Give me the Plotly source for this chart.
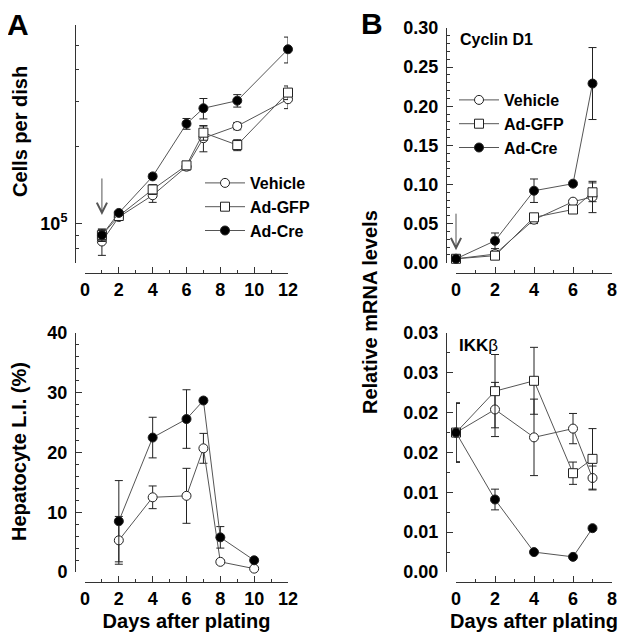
import numpy as np
import plotly.graph_objects as go

# --- DATA ---
growth_days = [1, 2, 4, 6, 7, 9, 12]
growth_vehicle = [0.85e5, 1.06e5, 1.29e5, 1.67e5, 2.16e5, 2.41e5, 3.07e5]
growth_vehicle_err = [0.10e5, 0.03e5, 0.08e5, 0.05e5, 0.25e5, 0.08e5, 0.25e5]
growth_gfp = [0.90e5, 1.07e5, 1.36e5, 1.69e5, 2.27e5, 2.03e5, 3.26e5]
growth_gfp_err = [0.05e5, 0.03e5, 0.06e5, 0.06e5, 0.15e5, 0.10e5, 0.20e5]
growth_cre = [0.90e5, 1.10e5, 1.53e5, 2.46e5, 2.83e5, 3.03e5, 4.82e5]
growth_cre_err = [0.04e5, 0.02e5, 0.03e5, 0.12e5, 0.26e5, 0.17e5, 0.56e5]

li_days = [2, 4, 6, 7, 8, 10]
li_vehicle = [5.3, 12.5, 12.75, 20.7, 1.7, 0.56]
li_vehicle_err = [4.0, 1.9, 4.6, 2.5, 0.3, 0.0]
li_cre = [8.5, 22.5, 25.6, 28.7, 5.8, 1.96]
li_cre_err = [6.8, 3.4, 4.9, 0.0, 1.8, 0.0]

mrna_days = [0, 2, 4, 6, 7]
cyclin_vehicle = [0.005, 0.011, 0.055, 0.078, 0.084]
cyclin_vehicle_err = [0.001, 0.004, 0.005, 0.003, 0.020]
cyclin_gfp = [0.005, 0.009, 0.058, 0.068, 0.090]
cyclin_gfp_err = [0.001, 0.003, 0.004, 0.003, 0.012]
cyclin_cre = [0.005, 0.028, 0.092, 0.101, 0.229]
cyclin_cre_err = [0.001, 0.010, 0.015, 0.002, 0.046]

ikk_vehicle = [0.0175, 0.0204, 0.0169, 0.0180, 0.0118]
ikk_vehicle_err = [0.0037, 0.0034, 0.0048, 0.0019, 0.0015]
ikk_gfp = [0.0175, 0.0227, 0.0240, 0.0124, 0.0142]
ikk_gfp_err = [0.0037, 0.0046, 0.0042, 0.0014, 0.0038]
ikk_cre = [0.0175, 0.0091, 0.0025, 0.0019, 0.0055]
ikk_cre_err = [0.0037, 0.0013, 0.0, 0.0, 0.0]

ikk_ticks = [0.0, 0.005, 0.010, 0.015, 0.020, 0.025, 0.030]
ikk_ticktext = ["0.00", "0.01", "0.01", "0.02", "0.02", "0.03", "0.03"]

# page has an 8px body margin, so the figure is drawn inside it
OFF = 8
W, H = 629 - 2 * OFF, 642 - 2 * OFF
FONT = "Arial, Liberation Sans, sans-serif"
LINE = "#555555"
EDGE = "#222222"

def px(x):
    return (x - OFF) / W

def py(y):
    return 1 - (y - OFF) / H

styles = {
    "Vehicle": dict(symbol="circle", color="white"),
    "Ad-GFP": dict(symbol="square", color="white"),
    "Ad-Cre": dict(symbol="circle", color="black"),
}

fig = go.Figure()

def add_series(name, x, y, err, xa, ya, legend=None):
    st = styles[name]
    fig.add_trace(go.Scatter(
        x=x, y=y, name=name, mode="lines+markers",
        xaxis=xa, yaxis=ya,
        line=dict(color=LINE, width=1),
        marker=dict(symbol=st["symbol"], size=9, color=st["color"],
                    line=dict(color=EDGE, width=1)),
        error_y=dict(type="data", array=err, visible=True, color=EDGE,
                     thickness=1, width=4),
        cliponaxis=False,
        showlegend=legend is not None,
        legend=legend if legend else "legend",
    ))

add_series("Vehicle", growth_days, growth_vehicle, growth_vehicle_err, "x", "y", "legend")
add_series("Ad-GFP", growth_days, growth_gfp, growth_gfp_err, "x", "y", "legend")
add_series("Ad-Cre", growth_days, growth_cre, growth_cre_err, "x", "y", "legend")

add_series("Vehicle", li_days, li_vehicle, li_vehicle_err, "x2", "y2")
add_series("Ad-Cre", li_days, li_cre, li_cre_err, "x2", "y2")

add_series("Vehicle", mrna_days, cyclin_vehicle, cyclin_vehicle_err, "x3", "y3", "legend2")
add_series("Ad-GFP", mrna_days, cyclin_gfp, cyclin_gfp_err, "x3", "y3", "legend2")
add_series("Ad-Cre", mrna_days, cyclin_cre, cyclin_cre_err, "x3", "y3", "legend2")

add_series("Vehicle", mrna_days, ikk_vehicle, ikk_vehicle_err, "x4", "y4")
add_series("Ad-GFP", mrna_days, ikk_gfp, ikk_gfp_err, "x4", "y4")
add_series("Ad-Cre", mrna_days, ikk_cre, ikk_cre_err, "x4", "y4")

tickfont = dict(family=FONT, size=18, color="black", weight="bold")
titlefont = dict(family=FONT, size=20, color="black", weight="bold")

def xaxis_style(domain, rng, pos, title=None):
    d = dict(domain=domain, range=rng, anchor="free", position=pos,
             automargin=False,
             showline=True, linecolor="#333", linewidth=1,
             ticks="inside", ticklen=6, tickcolor="#333", dtick=2, tick0=0,
             minor=dict(dtick=1, ticks="inside", ticklen=3, tickcolor="#333"),
             showgrid=False, zeroline=False, tickfont=tickfont)
    if title:
        d["title"] = dict(text=title, font=titlefont, standoff=6)
    return d

def yaxis_style(domain, rng, pos, **kw):
    d = dict(domain=domain, range=rng, anchor="free", position=pos,
             automargin=False,
             showline=True, linecolor="#333", linewidth=1,
             ticks="inside", ticklen=6, tickcolor="#333",
             showgrid=False, zeroline=False, tickfont=tickfont,
             ticklabelstandoff=4)
    d.update(kw)
    return d

xl = [px(85), px(288)]
xr = [px(456), px(612)]
yt_l = [py(263), py(25)]
yb = [py(572), py(333)]
yt_r = [py(262.7), py(28)]

legend_font = dict(family=FONT, size=16, color="black", weight="bold")

fig.update_layout(
    width=W, height=H,
    margin=dict(l=0, r=0, t=0, b=0, autoexpand=False),
    paper_bgcolor="white", plot_bgcolor="white",
    xaxis=xaxis_style(xl, [0, 12], py(273)),
    xaxis2=xaxis_style(xl, [0, 12], py(582), "Days after plating"),
    xaxis3=xaxis_style(xr, [0, 8], py(273)),
    xaxis4=xaxis_style(xr, [0, 8], py(582), "Days after plating"),
    yaxis=yaxis_style(yt_l, [np.log10(7e4), np.log10(6e5)], px(75), type="log",
                      tickmode="array", tickvals=[1e5], ticktext=["10<sup>5</sup>"],
                      minor=dict(tickmode="array",
                                 tickvals=[7e4, 8e4, 9e4, 2e5, 3e5, 4e5, 5e5, 6e5],
                                 ticks="inside", ticklen=3, tickcolor="#333")),
    yaxis2=yaxis_style(yb, [0, 40], px(75), dtick=10,
                       minor=dict(dtick=2, ticks="inside", ticklen=3, tickcolor="#333")),
    yaxis3=yaxis_style(yt_r, [0, 0.30], px(446), dtick=0.05, tickformat=".2f",
                       minor=dict(dtick=0.01, ticks="inside", ticklen=3, tickcolor="#333")),
    yaxis4=yaxis_style(yb, [0, 0.03], px(446), tickmode="array",
                       tickvals=ikk_ticks, ticktext=ikk_ticktext,
                       minor=dict(dtick=0.0025, ticks="inside", ticklen=3, tickcolor="#333")),
    legend=dict(x=px(200), y=py(166), xanchor="left", yanchor="top",
                font=legend_font, bgcolor="rgba(0,0,0,0)", itemwidth=40),
    legend2=dict(x=px(454), y=py(83), xanchor="left", yanchor="top",
                 font=legend_font, bgcolor="rgba(0,0,0,0)", itemwidth=40),
)

ann = [
    dict(text="A", x=px(18), y=py(24), font=dict(family=FONT, size=30, weight="bold")),
    dict(text="B", x=px(372), y=py(23), font=dict(family=FONT, size=30, weight="bold")),
    dict(text="Cells per dish", x=px(20), y=py(132), textangle=-90, font=titlefont),
    dict(text="Hepatocyte L.I. (%)", x=px(19), y=py(452), textangle=-90, font=titlefont),
    dict(text="Relative mRNA levels", x=px(370), y=py(312), textangle=-90, font=titlefont),
    dict(text="Cyclin D1", x=px(458), y=py(39), xanchor="left",
         font=dict(family=FONT, size=16, weight="bold")),
    dict(text="<b>IKK</b>β", x=px(457), y=py(345), xanchor="left",
         font=dict(family=FONT, size=17)),
]
for a in ann:
    a.setdefault("xref", "paper")
    a.setdefault("yref", "paper")
    a.setdefault("xanchor", "center")
    a.setdefault("yanchor", "middle")
    a.setdefault("showarrow", False)
    a["font"].setdefault("color", "black")
    fig.add_annotation(**a)

# arrows marking treatment start (tail offset in pixels)
fig.add_annotation(x=1, y=np.log10(1.08e5), ax=0, ay=-38,
                   xref="x", yref="y", text="",
                   showarrow=True, arrowhead=5, arrowsize=2, arrowwidth=1,
                   arrowcolor=LINE)
fig.add_annotation(x=0, y=0.016, ax=0, ay=-38,
                   xref="x3", yref="y3", text="",
                   showarrow=True, arrowhead=5, arrowsize=2, arrowwidth=1,
                   arrowcolor=LINE)

fig.write_html("out.html")
